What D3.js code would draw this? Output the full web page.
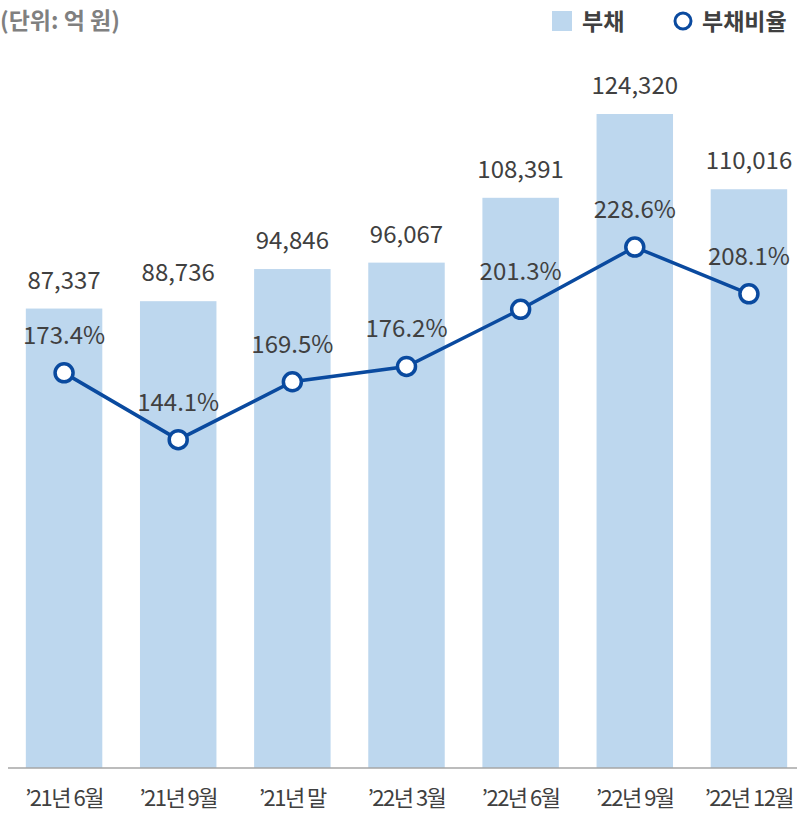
<!DOCTYPE html>
<html>
<head>
<meta charset="utf-8">
<script src="https://cdn.jsdelivr.net/npm/d3@7"></script>
<style>
    body { margin: 0; background: #fff; }
    svg { display: block; font-family: "Noto Sans CJK KR", "Noto Sans", sans-serif; }
</style>
</head>
<body>
<div id="chart"></div>
<script>
// categories and series
const periods = ["\u201921년 6월", "\u201921년 9월", "\u201921년 말", "\u201922년 3월", "\u201922년 6월", "\u201922년 9월", "\u201922년 12월"];
const debt = [87337, 88736, 94846, 96067, 108391, 124320, 110016];
const debtRatio = [173.4, 144.1, 169.5, 176.2, 201.3, 228.6, 208.1];

const width = 797, height = 816;
const baseY = 768, topY = 114;
const barColor = '#bdd7ee', lineColor = '#0a4a9f', textColor = '#404040';

const svg = d3.select('#chart').append('svg')
    .attr('width', width).attr('height', height);

// scales
const x = d3.scaleBand(periods, [7, 806]).paddingInner(0.33).paddingOuter(0.165);
const yBar = d3.scaleLinear([0, d3.max(debt)], [baseY, topY]);
// ratio axis shares the baseline, 228.6% sits at ~247px
const yLine = d3.scaleLinear([0, 287], [baseY, topY]);
const fmt = d3.format(',');

// bars
svg.append('g').selectAll('rect')
    .data(debt)
    .join('rect')
    .attr('x', (d, i) => x(periods[i]))
    .attr('y', d => yBar(d))
    .attr('width', x.bandwidth())
    .attr('height', d => baseY - yBar(d))
    .attr('fill', barColor);

// bar value labels
svg.append('g').selectAll('text')
    .data(debt)
    .join('text')
    .attr('x', (d, i) => x(periods[i]) + x.bandwidth() / 2)
    .attr('y', d => yBar(d) - 20)
    .attr('text-anchor', 'middle')
    .attr('font-size', 24)
    .attr('fill', textColor)
    .text(d => fmt(d));

// baseline axis
const axis = svg.append('g').attr('transform', `translate(0,${baseY})`)
    .call(d3.axisBottom(x).tickSize(0).tickPadding(22));
axis.select('.domain').attr('d', 'M8,0H797').attr('stroke', '#a6a6a6').attr('stroke-width', 1.5);
axis.selectAll('text')
    .attr('font-size', 22)
    .attr('font-family', '"Noto Sans CJK KR", sans-serif')
    .attr('letter-spacing', '-1.5px')
    .attr('fill', textColor);

// ratio line
const cx = (d, i) => x(periods[i]) + x.bandwidth() / 2;
svg.append('path')
    .datum(debtRatio)
    .attr('d', d3.line().x(cx).y(d => yLine(d)))
    .attr('fill', 'none')
    .attr('stroke', lineColor)
    .attr('stroke-width', 3.5);

svg.append('g').selectAll('circle')
    .data(debtRatio)
    .join('circle')
    .attr('cx', cx)
    .attr('cy', d => yLine(d))
    .attr('r', 9)
    .attr('fill', '#fff')
    .attr('stroke', lineColor)
    .attr('stroke-width', 3.5);

svg.append('g').selectAll('text')
    .data(debtRatio)
    .join('text')
    .attr('x', cx)
    .attr('y', d => yLine(d) - 29)
    .attr('text-anchor', 'middle')
    .attr('font-size', 24)
    .attr('fill', textColor)
    .text(d => d.toFixed(1) + '%');

// unit note
svg.append('text')
    .attr('x', 0).attr('y', 29)
    .attr('font-size', 23)
    .attr('font-weight', 'bold')
    .attr('fill', '#808080')
    .text('(단위: 억 원)');

// legend
const legend = svg.append('g');
legend.append('rect')
    .attr('x', 552).attr('y', 11).attr('width', 20).attr('height', 20)
    .attr('fill', barColor);
legend.append('text')
    .attr('x', 582).attr('y', 30)
    .attr('font-size', 23).attr('font-weight', 'bold').attr('fill', textColor)
    .text('부채');
legend.append('circle')
    .attr('cx', 683).attr('cy', 21).attr('r', 8)
    .attr('fill', '#fff').attr('stroke', lineColor).attr('stroke-width', 3);
legend.append('text')
    .attr('x', 702).attr('y', 30)
    .attr('font-size', 23).attr('font-weight', 'bold').attr('fill', textColor)
    .text('부채비율');
</script>
</body>
</html>
